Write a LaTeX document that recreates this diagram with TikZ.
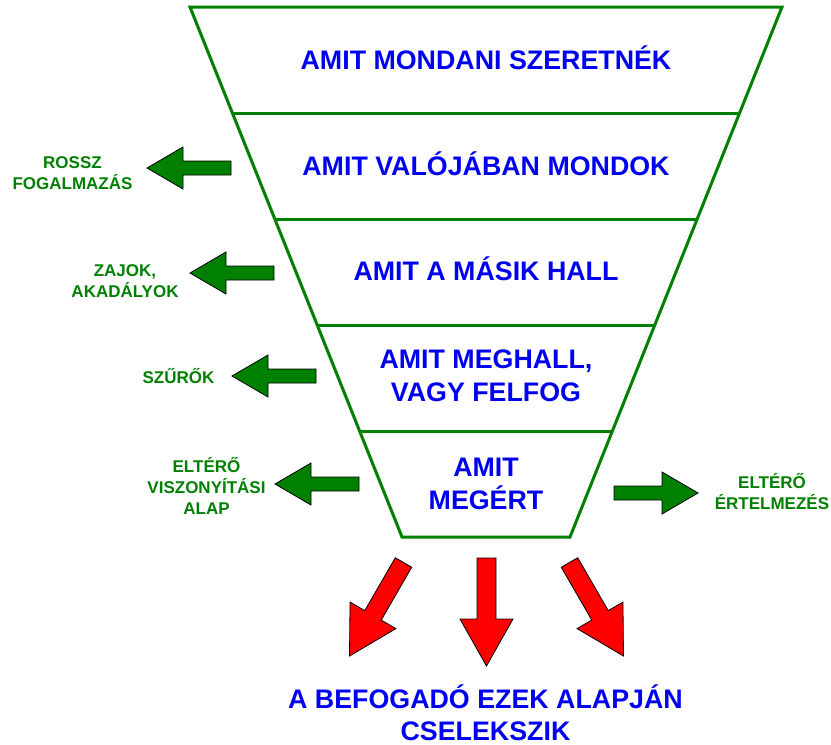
\documentclass[tikz,border=0pt]{standalone}
\usepackage{fontspec}
\setmainfont{Liberation Sans}
\usetikzlibrary{calc}
\definecolor{fgreen}{RGB}{0,128,0}
\definecolor{tblue}{RGB}{0,0,240}
\newcommand{\ml}[1]{\begin{tabular}[t]{@{}c@{}}#1\end{tabular}}
\begin{document}
\begin{tikzpicture}[x=1pt,y=-1pt,
  funnel/.style={draw=fgreen,line width=3pt,line join=miter},
  garrow/.style={draw=black,line width=0.8pt,fill=fgreen,line join=miter},
  rarrow/.style={draw=black,line width=0.8pt,fill=red,line join=miter},
  btext/.style={text=tblue,font=\fontsize{26.8}{33}\selectfont\bfseries,inner sep=0pt,anchor=base},
  gtext/.style={text=fgreen,font=\fontsize{17}{21}\selectfont\bfseries,inner sep=0pt,anchor=base},
  garr/.pic={\draw[garrow] (0,0) -- (36,-21) -- (36,-7) -- (84,-7) -- (84,7) -- (36,7) -- (36,21) -- cycle;},
  redarr/.pic={\draw[rarrow] (-9.5,0) -- (9.5,0) -- (9.5,61) -- (26.5,61) -- (0,108) -- (-26.5,61) -- (-9.5,61) -- cycle;}]
\useasboundingbox[fill=white] (0,0) rectangle (831,745);
% funnel
\coordinate (tl) at (190,7);
\coordinate (tr) at (782,7);
\coordinate (br) at (570,537);
\coordinate (bl) at (402,537);
\draw[funnel] (tl) -- (tr) -- (br) -- (bl) -- cycle;
\foreach \f in {0.2,0.4,0.6,0.8}
  \draw[funnel] ($(tl)!\f!(bl)$) -- ($(tr)!\f!(br)$);
% funnel texts
\node[btext] (t1) at (486,69) {AMIT MONDANI SZERETNÉK};
\node[btext] (t2) at (486,175) {AMIT VALÓJÁBAN MONDOK};
\node[btext] (t3) at (486,280) {AMIT A MÁSIK HALL};
\node[btext] (t4) at (486,368) {\ml{AMIT MEGHALL,\\VAGY FELFOG}};
\node[btext] (t5) at (486,476) {\ml{AMIT\\MEGÉRT}};
% green arrows and labels
\pic at (147,168) {garr};
\node[gtext] (g1) at (72.5,168) {\ml{ROSSZ\\FOGALMAZÁS}};
\pic at (190,273) {garr};
\node[gtext] (g2) at (125,276.5) {\ml{ZAJOK,\\AKADÁLYOK}};
\pic at (232,376) {garr};
\node[gtext] (g3) at (178.5,383) {SZŰRŐK};
\pic at (275,484) {garr};
\node[gtext] (g4) at (206.5,472) {\ml{ELTÉRŐ\\VISZONYÍTÁSI\\ALAP}};
\pic[rotate=180] at (698,493) {garr};
\node[gtext] (g5) at (772,488) {\ml{ELTÉRŐ\\ÉRTELMEZÉS}};
% red arrows
\pic[rotate=-30] at (403.5,562.5) {redarr};
\pic at (486.5,558) {redarr};
\pic[rotate=30] at (569.5,562.5) {redarr};
% result text
\node[text=tblue,font=\fontsize{26.8}{32}\selectfont\bfseries,inner sep=0pt,align=center,anchor=south] (act) at (485.5,741) {A BEFOGADÓ EZEK ALAPJÁN\\CSELEKSZIK};
\end{tikzpicture}
\end{document}
